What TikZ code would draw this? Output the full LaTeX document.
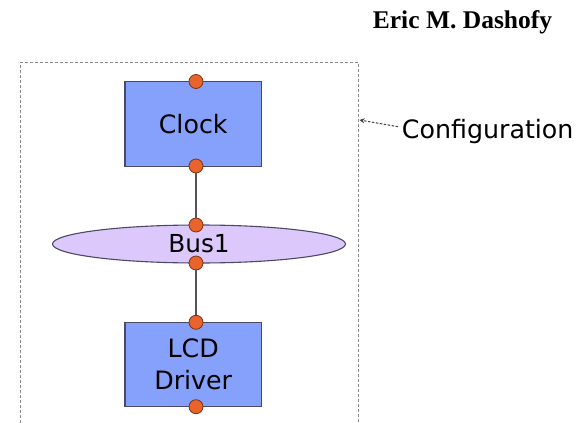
\documentclass[tikz,border=0pt]{standalone}
\usepackage{fontspec}
\usetikzlibrary{shapes.geometric,arrows.meta}
\newfontfamily\labelfont{DejaVu Sans}
\newfontfamily\authorfont{Liberation Serif}
\definecolor{compfill}{HTML}{85A1FB}
\definecolor{compline}{HTML}{4A4A66}
\definecolor{busfill}{HTML}{DDC8FB}
\definecolor{portfill}{HTML}{E8642C}
\definecolor{portline}{HTML}{7A3412}
\definecolor{wire}{HTML}{555555}
\definecolor{frame}{HTML}{8A8A8A}
\tikzset{
  component/.style={rectangle, draw=compline, fill=compfill, line width=1.1pt,
    minimum width=136.5pt, minimum height=84.5pt, inner sep=0pt,
    font=\labelfont\fontsize{25.3}{31.7}\selectfont, align=center},
  connector/.style={ellipse, draw=compline, fill=busfill, line width=1.1pt,
    minimum width=293pt, minimum height=38pt, inner sep=0pt,
    font=\labelfont\fontsize{24.8}{30}\selectfont},
  port/.style={circle, draw=portline, fill=portfill, line width=0.8pt,
    minimum size=14pt, inner sep=0pt},
  link/.style={draw=wire, line width=1.1pt},
  framebox/.style={draw=frame, line width=1.1pt, dash pattern=on 3pt off 2pt},
}
\begin{document}
\begin{tikzpicture}[x=1pt, y=-1pt]
  \useasboundingbox (0,0) rectangle (584,423);

  % author heading
  \node[anchor=base east, inner sep=0pt,
        font=\authorfont\bfseries\fontsize{25.5}{28}\selectfont]
        (author) at (552.3,28.3) {Eric M. Dashofy};

  % configuration boundary (runs past the lower edge)
  \coordinate (cfgbl) at (20.5,423);
  \coordinate (cfgtl) at (20.5,62.3);
  \coordinate (cfgtr) at (358.3,62.3);
  \coordinate (cfgbr) at (358.3,423);
  \coordinate (cfgedge) at (359.5,120);
  \draw[framebox] (cfgbl) -- (cfgtl) -- (cfgtr) -- (cfgbr);

  % components and bus
  \node[component] (clock) at (193.2,123.9) {Clock};
  \node[connector] (bus) at (199,244) {Bus1};
  \node[component] (lcd) at (193.2,364.5) {LCD\\Driver};

  % ports
  \node[port] (clocktop) at (196,81.5) {};
  \node[port] (clockbot) at (196,166) {};
  \node[port] (bustop) at (196,225) {};
  \node[port] (busbot) at (196,263) {};
  \node[port] (lcdtop) at (196,322.3) {};
  \node[port] (lcdbot) at (196,406.7) {};

  % links between ports
  \draw[link] (clockbot) -- (bustop);
  \draw[link] (busbot) -- (lcdtop);

  % label with pointer to the boundary
  \node[anchor=base west, inner sep=0pt,
        font=\labelfont\fontsize{25.3}{30}\selectfont]
        (cfglabel) at (401.7,138.3) {Configuration};
  \coordinate (cfgstart) at (398,126.7);
  \draw[draw=black!75, line width=1pt, dash pattern=on 2.5pt off 1.5pt,
        -{Stealth[length=5pt,width=5pt]}]
        (cfgstart) -- (cfgedge);
\end{tikzpicture}
\end{document}
